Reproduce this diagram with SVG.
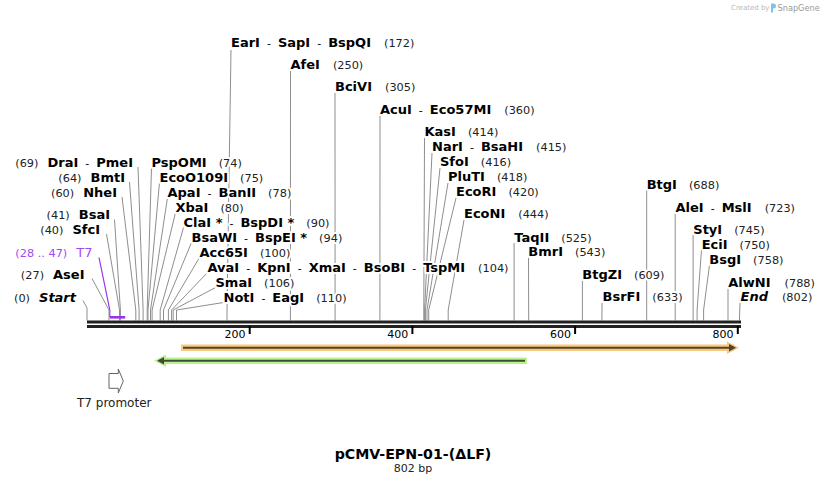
<svg xmlns="http://www.w3.org/2000/svg" width="828" height="484" viewBox="0 0 828 484">
<style>
text{font-family:"DejaVu Sans",Verdana,sans-serif}
.n{font-weight:bold;font-size:13px;fill:#000;stroke:#fff;stroke-width:4;stroke-linejoin:round;paint-order:stroke}
.i{font-style:italic}
.num{font-weight:normal;font-size:11.3px;fill:#222}
.sep{font-weight:normal;font-size:11px}
.pur{fill:#a347f5}
.l{fill:none;stroke:#8e8e8e;stroke-width:1}
.pl{fill:none;stroke:#9933ee;stroke-width:1.2}
.tick{font-size:11px;fill:#000}
</style>
<rect width="828" height="484" fill="#fff"/>
<g id="logo">
<text x="731" y="10" font-size="7" fill="#b8b8b8">Created by</text>
<path d="M771 3.5h2.5a2.5 2.5 0 0 1 0 5h-0.5v4h-2z" fill="#7cc4ee"/>
<text x="777.5" y="11" font-size="8.2" fill="#9a9a9a">SnapGene</text>
</g>
<g id="connectors">
<polyline class="l" points="138,167 143.1,310 143.1,320.5"/>
<polyline class="l" points="129.5,182 139.1,310 139.1,320.5"/>
<polyline class="l" points="122,197 135.8,310 135.8,320.5"/>
<polyline class="l" points="114.5,219.5 120.4,310 120.4,320.5"/>
<polyline class="l" points="106.5,234 119.5,310 119.5,320.5"/>
<polyline class="pl" points="99,257.5 109.8,310 109.8,317"/>
<polyline class="l" points="92,278.5 109,310 109,320.5"/>
<polyline class="l" points="83,300.5 87,308 87,320.5"/>
<polyline class="l" points="151.5,167.5 147.2,310 147.2,320.5"/>
<polyline class="l" points="159.5,182.5 148,310 148,320.5"/>
<polyline class="l" points="167.5,197.5 150.5,310 150.5,320.5"/>
<polyline class="l" points="175.5,212.5 152.1,310 152.1,320.5"/>
<polyline class="l" points="183.5,227.5 160.2,310 160.2,320.5"/>
<polyline class="l" points="191.5,242.5 163.5,310 163.5,320.5"/>
<polyline class="l" points="199.5,257.5 168.4,310 168.4,320.5"/>
<polyline class="l" points="207.5,272.5 171.6,310 171.6,320.5"/>
<polyline class="l" points="215.5,287.5 173.2,310 173.2,320.5"/>
<polyline class="l" points="223.5,302.5 176.5,310 176.5,320.5"/>
<polyline class="l" points="231,50 227,310 227,320.5"/>
<polyline class="l" points="290.5,71 290.4,320.5"/>
<polyline class="l" points="335,93 335.1,320.5"/>
<polyline class="l" points="380,116 379.9,320.5"/>
<polyline class="l" points="424.5,138 423.8,310 423.8,320.5"/>
<polyline class="l" points="432,153 424.6,310 424.6,320.5"/>
<polyline class="l" points="440,168 425.4,310 425.4,320.5"/>
<polyline class="l" points="448,183 427,310 427,320.5"/>
<polyline class="l" points="456,198 428.7,310 428.7,320.5"/>
<polyline class="l" points="464,220 448.2,310 448.2,320.5"/>
<polyline class="l" points="514.1,243 514.1,320.5"/>
<polyline class="l" points="528.5,258 528.7,320.5"/>
<polyline class="l" points="582.4,280.5 582.4,320.5"/>
<polyline class="l" points="602,303 601.9,320.5"/>
<polyline class="l" points="646.7,190 646.7,320.5"/>
<polyline class="l" points="675.2,213 675.2,320.5"/>
<polyline class="l" points="693.1,235 693.1,320.5"/>
<polyline class="l" points="701.5,250 697.1,310 697.1,320.5"/>
<polyline class="l" points="709.5,265 703.6,310 703.6,320.5"/>
<polyline class="l" points="728,288 728,320.5"/>
<polyline class="l" points="740,303 739.4,320.5"/>
</g>
<g id="sequence">
<rect x="87" y="320.5" width="654" height="3" fill="#222"/>
<rect x="87" y="325" width="654" height="3" fill="#222"/>
<g fill="#000">
<rect x="248.7" y="326" width="2" height="8"/>
<rect x="411.4" y="326" width="2" height="8"/>
<rect x="574.1" y="326" width="2" height="8"/>
<rect x="736.8" y="326" width="2" height="8"/>
</g>
<text class="tick" x="245.5" y="338" text-anchor="end">200</text>
<text class="tick" x="408.2" y="338" text-anchor="end">400</text>
<text class="tick" x="570.9" y="338" text-anchor="end">600</text>
<text class="tick" x="733.6" y="338" text-anchor="end">800</text>
<rect x="109.8" y="316" width="15.4" height="2.6" fill="#9933ee"/>
</g>
<g id="feature-orange">
<rect x="181" y="344.5" width="553" height="6.5" fill="#f8c87c"/>
<polygon points="727,341.5 739,347.8 727,354" fill="#f8c87c"/>
<line x1="183" y1="347.8" x2="731" y2="347.8" stroke="#4f4332" stroke-width="2"/>
<polygon points="729,344 736,347.8 729,351.6" fill="#4f4332"/>
</g>
<g id="feature-green">
<rect x="162" y="357.5" width="365" height="6.5" fill="#b9f28f"/>
<polygon points="166,354.5 154,360.8 166,367" fill="#b9f28f"/>
<line x1="162" y1="360.8" x2="525" y2="360.8" stroke="#3f4b33" stroke-width="2"/>
<polygon points="164,357 157,360.8 164,364.6" fill="#3f4b33"/>
</g>
<g id="t7-promoter">
<polygon points="109,373.5 118.3,373.5 118.3,369 123.3,381 118.3,393 118.3,388.3 109,388.3" fill="#fff" stroke="#666" stroke-width="1"/>
<text x="77" y="407" font-size="12" fill="#222">T7 promoter</text>
</g>
<g id="labels-left">
<text class="n" x="133" y="167" text-anchor="end"><tspan class="num">(69)</tspan><tspan dx="9">DraI</tspan><tspan class="sep" dx="7">-</tspan><tspan dx="7">PmeI</tspan></text>
<text class="n" x="125" y="182" text-anchor="end"><tspan class="num">(64)</tspan><tspan dx="9">BmtI</tspan></text>
<text class="n" x="117" y="197" text-anchor="end"><tspan class="num">(60)</tspan><tspan dx="9">NheI</tspan></text>
<text class="n" x="110" y="219" text-anchor="end"><tspan class="num">(41)</tspan><tspan dx="9">BsaI</tspan></text>
<text class="n" x="100" y="233.5" text-anchor="end"><tspan class="num">(40)</tspan><tspan dx="9">SfcI</tspan></text>
<text class="n pur" x="92.5" y="256.5" text-anchor="end" style="font-weight:normal"><tspan class="num pur">(28 .. 47)</tspan><tspan dx="9" font-size="13">T7</tspan></text>
<text class="n" x="84.5" y="279" text-anchor="end"><tspan class="num">(27)</tspan><tspan dx="9">AseI</tspan></text>
<text class="n" x="76" y="301.5" text-anchor="end"><tspan class="num">(0)</tspan><tspan dx="9" class="i">Start</tspan></text>
</g>
<g id="labels-mid">
<text class="n" x="151.5" y="167">PspOMI<tspan class="num" dx="12">(74)</tspan></text>
<text class="n" x="159.5" y="182">EcoO109I<tspan class="num" dx="12">(75)</tspan></text>
<text class="n" x="167.5" y="197">ApaI<tspan class="sep" dx="7">-</tspan><tspan dx="7">BanII</tspan><tspan class="num" dx="12">(78)</tspan></text>
<text class="n" x="175.5" y="212">XbaI<tspan class="num" dx="12">(80)</tspan></text>
<text class="n" x="183.5" y="227">ClaI *<tspan class="sep" dx="7">-</tspan><tspan dx="7">BspDI *</tspan><tspan class="num" dx="12">(90)</tspan></text>
<text class="n" x="191.5" y="242">BsaWI<tspan class="sep" dx="7">-</tspan><tspan dx="7">BspEI *</tspan><tspan class="num" dx="12">(94)</tspan></text>
<text class="n" x="199.5" y="257">Acc65I<tspan class="num" dx="12">(100)</tspan></text>
<text class="n" x="207.5" y="272">AvaI<tspan class="sep" dx="7">-</tspan><tspan dx="7">KpnI</tspan><tspan class="sep" dx="7">-</tspan><tspan dx="7">XmaI</tspan><tspan class="sep" dx="7">-</tspan><tspan dx="7">BsoBI</tspan><tspan class="sep" dx="7">-</tspan><tspan dx="7">TspMI</tspan><tspan class="num" dx="13">(104)</tspan></text>
<text class="n" x="215.5" y="287">SmaI<tspan class="num" dx="12">(106)</tspan></text>
<text class="n" x="223.5" y="302">NotI<tspan class="sep" dx="7">-</tspan><tspan dx="7">EagI</tspan><tspan class="num" dx="12">(110)</tspan></text>
</g>
<g id="labels-top">
<text class="n" x="231" y="47">EarI<tspan class="sep" dx="7">-</tspan><tspan dx="7">SapI</tspan><tspan class="sep" dx="7">-</tspan><tspan dx="7">BspQI</tspan><tspan class="num" dx="13">(172)</tspan></text>
<text class="n" x="290.5" y="68.5">AfeI<tspan class="num" dx="13">(250)</tspan></text>
<text class="n" x="335" y="91">BciVI<tspan class="num" dx="13">(305)</tspan></text>
<text class="n" x="380" y="113.5">AcuI<tspan class="sep" dx="7">-</tspan><tspan dx="7">Eco57MI</tspan><tspan class="num" dx="13">(360)</tspan></text>
<text class="n" x="424.5" y="136">KasI<tspan class="num" dx="12">(414)</tspan></text>
<text class="n" x="432" y="151">NarI<tspan class="sep" dx="7">-</tspan><tspan dx="7">BsaHI</tspan><tspan class="num" dx="13">(415)</tspan></text>
<text class="n" x="440" y="166">SfoI<tspan class="num" dx="12">(416)</tspan></text>
<text class="n" x="448" y="181">PluTI<tspan class="num" dx="12">(418)</tspan></text>
<text class="n" x="456" y="196">EcoRI<tspan class="num" dx="12">(420)</tspan></text>
<text class="n" x="464" y="218">EcoNI<tspan class="num" dx="13">(444)</tspan></text>
<text class="n" x="514.3" y="241.5">TaqII<tspan class="num" dx="12">(525)</tspan></text>
<text class="n" x="528.3" y="256">BmrI<tspan class="num" dx="12">(543)</tspan></text>
<text class="n" x="582.3" y="278.5">BtgZI<tspan class="num" dx="12">(609)</tspan></text>
<text class="n" x="602.5" y="301">BsrFI<tspan class="num" dx="12">(633)</tspan></text>
</g>
<g id="labels-right">
<text class="n" x="646.7" y="188.5">BtgI<tspan class="num" dx="12">(688)</tspan></text>
<text class="n" x="675.5" y="211.5">AleI<tspan class="sep" dx="7">-</tspan><tspan dx="7">MslI</tspan><tspan class="num" dx="13">(723)</tspan></text>
<text class="n" x="693.3" y="233.5">StyI<tspan class="num" dx="12">(745)</tspan></text>
<text class="n" x="701.7" y="248.5">EciI<tspan class="num" dx="12">(750)</tspan></text>
<text class="n" x="709.3" y="263.5">BsgI<tspan class="num" dx="12">(758)</tspan></text>
<text class="n" x="728.3" y="286.5">AlwNI<tspan class="num" dx="14">(788)</tspan></text>
<text class="n i" x="740.5" y="301">End<tspan class="num" dx="14" style="font-style:normal">(802)</tspan></text>
</g>
<g id="title">
<text x="413" y="459" text-anchor="middle" font-size="14.2" font-weight="bold" fill="#000">pCMV-EPN-01-(ΔLF)</text>
<text x="413" y="472" text-anchor="middle" font-size="11" fill="#222">802 bp</text>
</g>
</svg>
